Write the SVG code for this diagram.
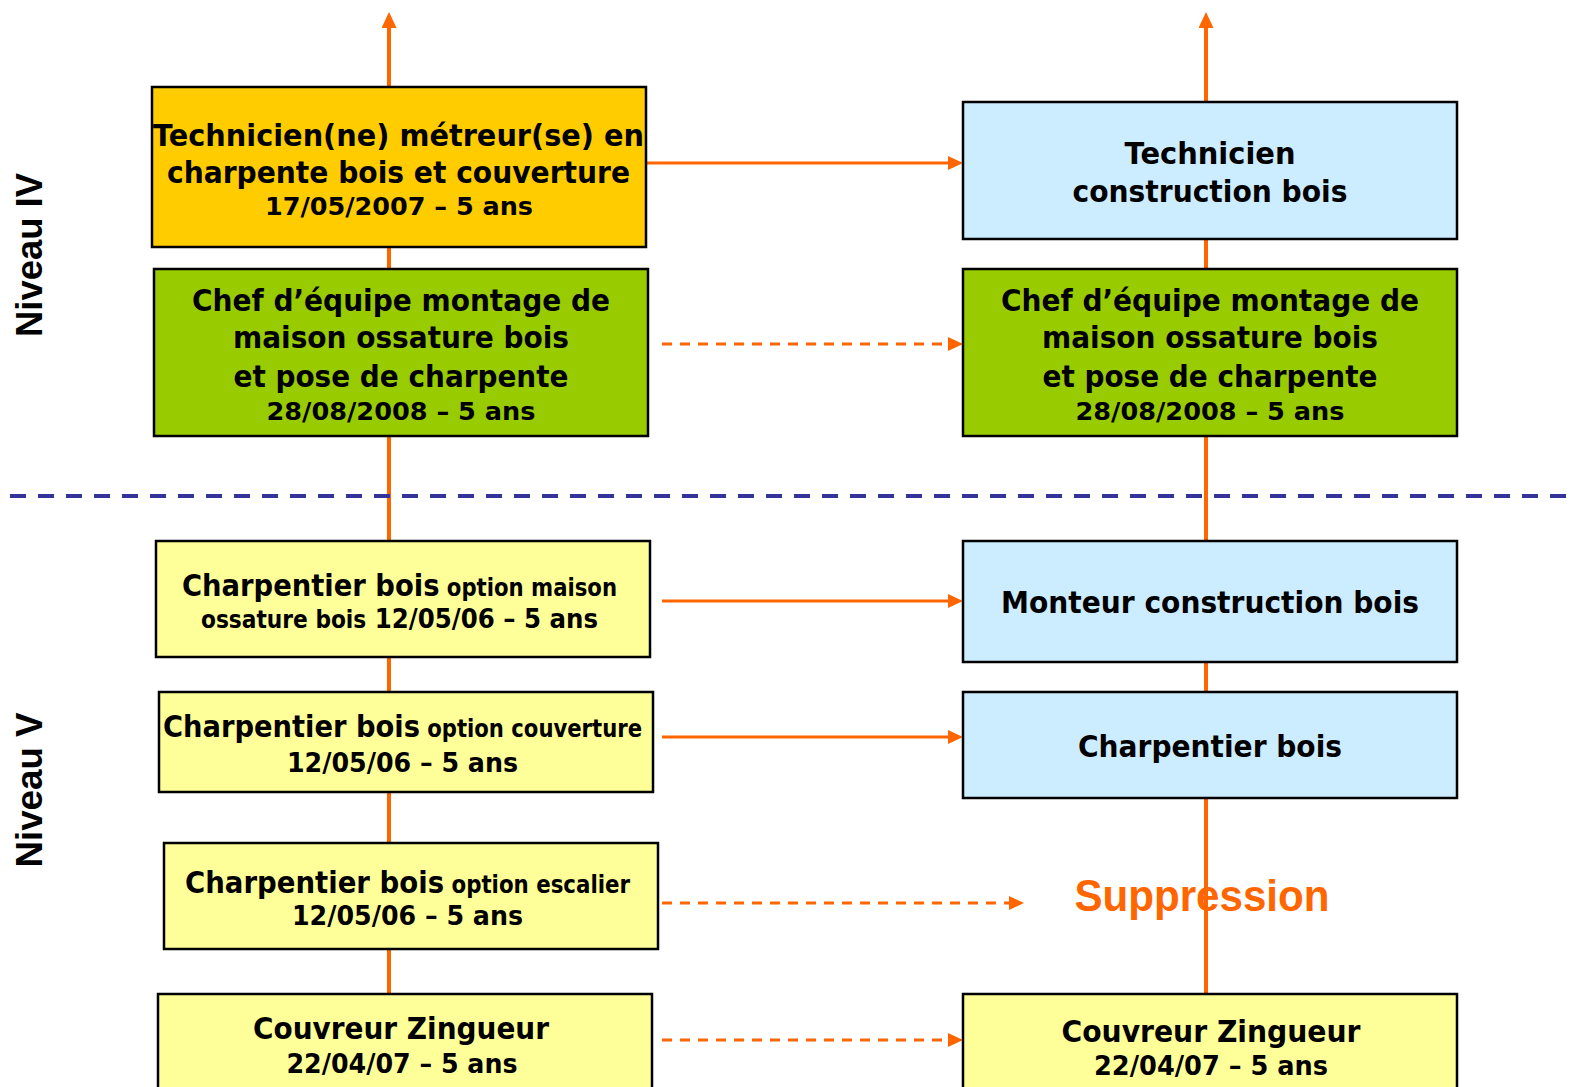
<svg xmlns="http://www.w3.org/2000/svg" width="1580" height="1087" viewBox="0 0 1580 1087">
<style>
.box{stroke:#000;stroke-width:2.5}
.t{font-family:"DejaVu Sans","Noto Sans",sans-serif;font-weight:bold;fill:#000}
.big{font-size:31px}
.mid{font-size:27px}
.sm{font-size:24px}
.lvl{font-family:"Liberation Sans",Arial,sans-serif;font-weight:bold;font-size:37px;fill:#000}
.conn{stroke:#FF6600;stroke-width:3;fill:none}
.vert{stroke:#FF6600;stroke-width:4;fill:none}
.dash{stroke-dasharray:10 8}
</style>
<defs>
<marker id="ah" viewBox="0 0 15 14" refX="0" refY="7" markerWidth="15" markerHeight="14" markerUnits="userSpaceOnUse" orient="auto">
<path d="M0,0 L15,7 L0,14 z" fill="#FF6600"/>
</marker>
<marker id="av" viewBox="0 0 16 15" refX="0" refY="7.5" markerWidth="16" markerHeight="15" markerUnits="userSpaceOnUse" orient="auto">
<path d="M0,0 L16,7.5 L0,15 z" fill="#FF6600"/>
</marker>
</defs>
<rect width="1580" height="1087" fill="#fff"/>

<g id="connectors">
<line class="vert" x1="389" y1="994" x2="389" y2="28" marker-end="url(#av)"/>
<line class="vert" x1="1206" y1="994" x2="1206" y2="28" marker-end="url(#av)"/>
<line x1="10" y1="496" x2="1570" y2="496" stroke="#333399" stroke-width="4" stroke-dasharray="16 12"/>
<line class="conn" x1="646" y1="163" x2="948" y2="163" marker-end="url(#ah)"/>
<line class="conn dash" x1="662" y1="344" x2="948" y2="344" marker-end="url(#ah)"/>
<line class="conn" x1="662" y1="601" x2="948" y2="601" marker-end="url(#ah)"/>
<line class="conn" x1="662" y1="737" x2="948" y2="737" marker-end="url(#ah)"/>
<line class="conn dash" x1="662" y1="903" x2="1009" y2="903" marker-end="url(#ah)"/>
<line class="conn dash" x1="662" y1="1040" x2="948" y2="1040" marker-end="url(#ah)"/>
</g>

<g id="levels">
<text class="lvl" transform="translate(42,255) rotate(-90)" text-anchor="middle" textLength="164" lengthAdjust="spacingAndGlyphs">Niveau IV</text>
<text class="lvl" transform="translate(42,790) rotate(-90)" text-anchor="middle" textLength="155" lengthAdjust="spacingAndGlyphs">Niveau V</text>
</g>

<g id="n-technicien-metreur">
<rect class="box" x="152" y="87" width="494" height="160" fill="#FFCC00"/>
<text class="t big" x="398.5" y="146" text-anchor="middle" textLength="491" lengthAdjust="spacingAndGlyphs">Technicien(ne) métreur(se) en</text>
<text class="t big" x="398.5" y="183" text-anchor="middle" textLength="463" lengthAdjust="spacingAndGlyphs">charpente bois et couverture</text>
<text class="t sm" x="399" y="215" text-anchor="middle" textLength="268" lengthAdjust="spacingAndGlyphs">17/05/2007 – 5 ans</text>
</g>

<g id="n-technicien-construction">
<rect class="box" x="963" y="102" width="494" height="137" fill="#CCECFF"/>
<text class="t big" x="1210" y="164" text-anchor="middle" textLength="171" lengthAdjust="spacingAndGlyphs">Technicien</text>
<text class="t big" x="1210" y="201.5" text-anchor="middle" textLength="275" lengthAdjust="spacingAndGlyphs">construction bois</text>
</g>

<g id="n-chef-left">
<rect class="box" x="154" y="269" width="494" height="167" fill="#99CC00"/>
<text class="t big" x="401" y="311" text-anchor="middle" textLength="418" lengthAdjust="spacingAndGlyphs">Chef d’équipe montage de</text>
<text class="t big" x="401" y="348" text-anchor="middle" textLength="336" lengthAdjust="spacingAndGlyphs">maison ossature bois</text>
<text class="t big" x="401" y="387" text-anchor="middle" textLength="335" lengthAdjust="spacingAndGlyphs">et pose de charpente</text>
<text class="t sm" x="401" y="420" text-anchor="middle" textLength="269" lengthAdjust="spacingAndGlyphs">28/08/2008 – 5 ans</text>
</g>

<g id="n-chef-right">
<rect class="box" x="963" y="269" width="494" height="167" fill="#99CC00"/>
<text class="t big" x="1210" y="311" text-anchor="middle" textLength="418" lengthAdjust="spacingAndGlyphs">Chef d’équipe montage de</text>
<text class="t big" x="1210" y="348" text-anchor="middle" textLength="336" lengthAdjust="spacingAndGlyphs">maison ossature bois</text>
<text class="t big" x="1210" y="387" text-anchor="middle" textLength="335" lengthAdjust="spacingAndGlyphs">et pose de charpente</text>
<text class="t sm" x="1210" y="420" text-anchor="middle" textLength="269" lengthAdjust="spacingAndGlyphs">28/08/2008 – 5 ans</text>
</g>

<g id="n-charpentier-maison">
<rect class="box" x="156" y="541" width="494" height="116" fill="#FFFF99"/>
<text class="t" x="182" y="596" textLength="435" lengthAdjust="spacingAndGlyphs"><tspan class="big">Charpentier bois</tspan><tspan class="sm"> option maison</tspan></text>
<text class="t" x="201" y="628" textLength="397" lengthAdjust="spacingAndGlyphs"><tspan class="sm">ossature bois</tspan><tspan class="mid"> 12/05/06 – 5 ans</tspan></text>
</g>

<g id="n-monteur">
<rect class="box" x="963" y="541" width="494" height="121" fill="#CCECFF"/>
<text class="t big" x="1210" y="613" text-anchor="middle" textLength="418" lengthAdjust="spacingAndGlyphs">Monteur construction bois</text>
</g>

<g id="n-charpentier-couverture">
<rect class="box" x="159" y="692" width="494" height="100" fill="#FFFF99"/>
<text class="t" x="163" y="737" textLength="479" lengthAdjust="spacingAndGlyphs"><tspan class="big">Charpentier bois</tspan><tspan class="sm"> option couverture</tspan></text>
<text class="t mid" x="402.5" y="772" text-anchor="middle" textLength="231" lengthAdjust="spacingAndGlyphs">12/05/06 – 5 ans</text>
</g>

<g id="n-charpentier-right">
<rect class="box" x="963" y="692" width="494" height="106" fill="#CCECFF"/>
<text class="t big" x="1210" y="757" text-anchor="middle" textLength="264" lengthAdjust="spacingAndGlyphs">Charpentier bois</text>
</g>

<g id="n-charpentier-escalier">
<rect class="box" x="164" y="843" width="494" height="106" fill="#FFFF99"/>
<text class="t" x="185" y="893" textLength="445" lengthAdjust="spacingAndGlyphs"><tspan class="big">Charpentier bois</tspan><tspan class="sm"> option escalier</tspan></text>
<text class="t mid" x="407.5" y="925" text-anchor="middle" textLength="231" lengthAdjust="spacingAndGlyphs">12/05/06 – 5 ans</text>
</g>

<g id="n-suppression">
<text x="1202" y="911" text-anchor="middle" font-family="Liberation Sans, Arial, sans-serif" font-weight="bold" font-size="44" fill="#FF6600" textLength="255" lengthAdjust="spacingAndGlyphs">Suppression</text>
</g>

<g id="n-couvreur-left">
<rect class="box" x="158" y="994" width="494" height="110" fill="#FFFF99"/>
<text class="t big" x="401" y="1039" text-anchor="middle" textLength="296" lengthAdjust="spacingAndGlyphs">Couvreur Zingueur</text>
<text class="t mid" x="402" y="1073" text-anchor="middle" textLength="231" lengthAdjust="spacingAndGlyphs">22/04/07 – 5 ans</text>
</g>

<g id="n-couvreur-right">
<rect class="box" x="963" y="994" width="494" height="110" fill="#FFFF99"/>
<text class="t big" x="1211" y="1042" text-anchor="middle" textLength="299" lengthAdjust="spacingAndGlyphs">Couvreur Zingueur</text>
<text class="t mid" x="1211" y="1075" text-anchor="middle" textLength="234" lengthAdjust="spacingAndGlyphs">22/04/07 – 5 ans</text>
</g>
</svg>
